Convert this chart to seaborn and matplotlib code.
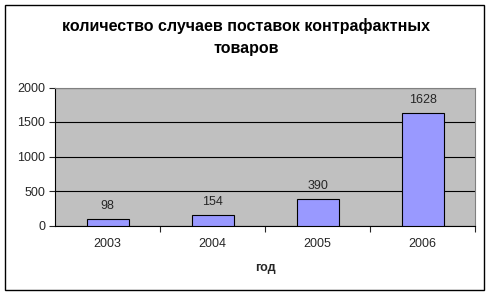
import matplotlib
matplotlib.use("Agg")
import matplotlib.pyplot as plt
import seaborn as sns
import pandas as pd
from matplotlib.patches import Rectangle

years = ["2003", "2004", "2005", "2006"]
values = [98, 154, 390, 1628]
title = "количество случаев поставок контрафактных\nтоваров"
xlabel = "год"

sns.set_style("white")
plt.rcParams['font.family'] = ['Liberation Sans', 'DejaVu Sans']

df = pd.DataFrame({"year": years, "value": values})

fig = plt.figure(figsize=(4.91, 2.96), dpi=100)
ax = fig.add_axes([55/491, 1-225.5/296, 420/491, 138/296])
sns.barplot(data=df, x="year", y="value", ax=ax, color="#9999FF",
            saturation=1, width=0.4, edgecolor="black", linewidth=0.8, zorder=3)
ax.set_facecolor("#C0C0C0")
ax.set_ylim(0, 2000)
ax.set_xlim(-0.5, 3.5)
ax.set_yticks([0, 500, 1000, 1500, 2000])
ax.yaxis.grid(True, color="black", linewidth=0.8, zorder=0)
ax.set_axisbelow(True)
for s in ["top", "right"]:
    ax.spines[s].set_color("#808080")
    ax.spines[s].set_linewidth(0.8)
for s in ["left", "bottom"]:
    ax.spines[s].set_color("black")
    ax.spines[s].set_linewidth(0.8)
ax.set_xticks([0, 1, 2, 3])
ax.set_xticklabels(years)
ax.tick_params(axis="x", length=0, pad=9, labelsize=9)
ax.tick_params(axis="y", length=4, width=0.8, direction="out", left=True, pad=3, labelsize=9)
ax.set_xticks([0.5, 1.5, 2.5, 3.5], minor=True)
ax.tick_params(axis="x", which="minor", length=4, width=0.8, direction="out", bottom=True)
ax.set_xlabel(xlabel, fontsize=9, fontweight="bold", labelpad=9)
ax.set_ylabel("")
for i, v in enumerate(values):
    ax.annotate(str(v), (i, v), xytext=(0, 5), textcoords="offset points",
                ha="center", va="bottom", fontsize=9)
fig.text(246/491, 1-37/296, title, ha="center", va="center", fontsize=11.5,
         fontweight="bold", linespacing=1.5, color="black")
fig.patches.append(Rectangle((5/491, 6/296), 479/491, 285/296, transform=fig.transFigure,
                             fill=False, edgecolor="black", linewidth=1))
fig.savefig("out.png", dpi=100)
